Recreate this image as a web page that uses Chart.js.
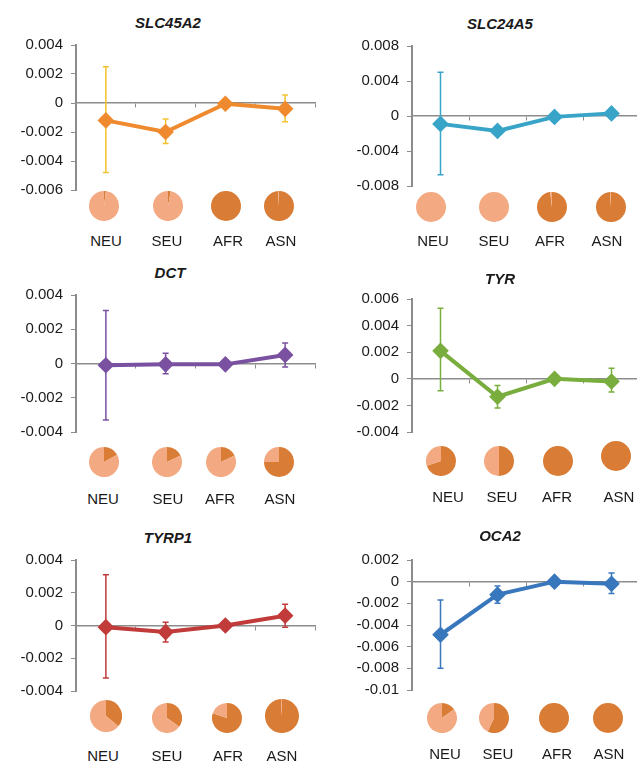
<!DOCTYPE html>
<html>
<head>
<meta charset="utf-8">
<script src="https://cdn.jsdelivr.net/npm/chart.js@4.4.1/dist/chart.umd.min.js"></script>
<style>
  html, body { margin: 0; padding: 0; background: #fff; overflow: hidden; }
  body { position: relative; width: 637px; height: 767px; font-family: "Liberation Sans", Arial, sans-serif; }
  canvas, .txt { position: absolute; }
  .txt { transform: translate(-50%, -50%); white-space: nowrap; color: #1a1a1a; }
  .title { font-weight: bold; font-style: italic; font-size: 15px; }
  .cat { font-size: 15px; }
</style>
</head>
<body>
<script>
const categories = ["NEU", "SEU", "AFR", "ASN"];

// mean, error bar ends, share of dark allele in the pies
const slc45a2Mean = [-0.0012, -0.002, -0.00005, -0.0004];
const slc45a2Low = [-0.0048, -0.0028, -0.0002, -0.0013];
const slc45a2High = [0.0025, -0.0011, 0.0001, 0.00055];
const slc45a2Dark = [0.02, 0.03, 1, 0.99];
const slc45a2Ticks = [-0.006, -0.004, -0.002, 0, 0.002, 0.004];

const slc24a5Mean = [-0.0009, -0.0017, -0.0001, 0.0003];
const slc24a5Low = [-0.0067, -0.0021, -0.0003, 0];
const slc24a5High = [0.005, -0.0012, 0.0001, 0.0006];
const slc24a5Dark = [0, 0, 0.98, 0.99];
const slc24a5Ticks = [-0.008, -0.004, 0, 0.004, 0.008];

const dctMean = [-0.0001, -0.00005, -0.00005, 0.0005];
const dctLow = [-0.0033, -0.0006, -0.0002, -0.0002];
const dctHigh = [0.0031, 0.0006, 0.0002, 0.0012];
const dctDark = [0.17, 0.18, 0.18, 0.75];
const dctTicks = [-0.004, -0.002, 0, 0.002, 0.004];

const tyrMean = [0.0021, -0.00135, 0, -0.0002];
const tyrLow = [-0.0009, -0.0022, -0.0002, -0.001];
const tyrHigh = [0.0053, -0.0005, 0.0002, 0.0008];
const tyrDark = [0.7, 0.5, 1, 1];
const tyrTicks = [-0.004, -0.002, 0, 0.002, 0.004, 0.006];

const tyrp1Mean = [-0.0001, -0.0004, 0, 0.0006];
const tyrp1Low = [-0.0032, -0.001, -0.0002, -0.0001];
const tyrp1High = [0.0031, 0.0002, 0.0002, 0.0013];
const tyrp1Dark = [0.36, 0.35, 0.8, 0.99];
const tyrp1Ticks = [-0.004, -0.002, 0, 0.002, 0.004];

const oca2Mean = [-0.0049, -0.0012, 0, -0.0002];
const oca2Low = [-0.008, -0.002, -0.0002, -0.0011];
const oca2High = [-0.0017, -0.0004, 0.0002, 0.0008];
const oca2Dark = [0.15, 0.57, 1, 1];
const oca2Ticks = [-0.01, -0.008, -0.006, -0.004, -0.002, 0, 0.002];

const axisGray = "#8c8c8c";
const darkSkin = "#d97c35";
const lightSkin = "#f3a981";

const panels = [
  { gene: "SLC45A2", mean: slc45a2Mean, low: slc45a2Low, high: slc45a2High, dark: slc45a2Dark, ticks: slc45a2Ticks,
    color: "#ef8a2f", barColor: "#f3c232", left: 0, width: 318, axisW: 76, top: 45, bottom: 190,
    titleX: 168, titleY: 22, catY: 240, catX: [106, 167, 228, 281],
    pieX: [104, 168, 226, 279], pieY: [206, 206, 206, 206], pieR: [15, 15, 15, 15] },
  { gene: "SLC24A5", mean: slc24a5Mean, low: slc24a5Low, high: slc24a5High, dark: slc24a5Dark, ticks: slc24a5Ticks,
    color: "#38a5c8", barColor: "#38a5c8", left: 320, width: 320, axisW: 92, top: 46, bottom: 186,
    titleX: 500, titleY: 23, catY: 240, catX: [433, 494, 550, 607],
    pieX: [431, 494, 552, 611], pieY: [207, 207, 207, 207], pieR: [15, 15, 15, 15] },
  { gene: "DCT", mean: dctMean, low: dctLow, high: dctHigh, dark: dctDark, ticks: dctTicks,
    color: "#7a51a0", barColor: "#7a51a0", left: 0, width: 318, axisW: 76, top: 295, bottom: 432,
    titleX: 170, titleY: 272, catY: 498, catX: [103, 168, 220, 280],
    pieX: [104, 167, 221, 279], pieY: [462, 462, 462, 462], pieR: [15, 15, 15, 15] },
  { gene: "TYR", mean: tyrMean, low: tyrLow, high: tyrHigh, dark: tyrDark, ticks: tyrTicks,
    color: "#79ae3e", barColor: "#79ae3e", left: 320, width: 320, axisW: 92, top: 299, bottom: 432,
    titleX: 500, titleY: 278, catY: 496, catX: [448, 502, 557, 619],
    pieX: [441, 499, 558, 616], pieY: [461, 461, 461, 456], pieR: [15, 15, 15, 15] },
  { gene: "TYRP1", mean: tyrp1Mean, low: tyrp1Low, high: tyrp1High, dark: tyrp1Dark, ticks: tyrp1Ticks,
    color: "#c23b3b", barColor: "#c23b3b", left: 0, width: 318, axisW: 76, top: 560, bottom: 691,
    titleX: 168, titleY: 537, catY: 755, catX: [103, 167, 228, 282],
    pieX: [106, 167, 227, 282], pieY: [716, 718, 718, 716], pieR: [16, 15, 15, 17] },
  { gene: "OCA2", mean: oca2Mean, low: oca2Low, high: oca2High, dark: oca2Dark, ticks: oca2Ticks,
    color: "#3977bd", barColor: "#3977bd", left: 320, width: 320, axisW: 92, top: 560, bottom: 690,
    titleX: 500, titleY: 535, catY: 753, catX: [445, 498, 557, 609],
    pieX: [442, 494, 554, 608], pieY: [718, 718, 718, 718], pieR: [15, 15, 15, 15] },
];

// error bars are drawn under the line, from the dataset's own low/high arrays
const errorBars = {
  id: "errorBars",
  beforeDatasetsDraw(chart) {
    const { ctx, scales: { x, y } } = chart;
    const ds = chart.data.datasets[0];
    ctx.save();
    ctx.strokeStyle = ds.errColor;
    ctx.lineWidth = 1.5;
    ds.errLow.forEach((lo, i) => {
      const px = x.getPixelForValue(i);
      const y1 = y.getPixelForValue(lo);
      const y2 = y.getPixelForValue(ds.errHigh[i]);
      ctx.beginPath();
      ctx.moveTo(px, y1);
      ctx.lineTo(px, y2);
      ctx.moveTo(px - 3, y1);
      ctx.lineTo(px + 3, y1);
      ctx.moveTo(px - 3, y2);
      ctx.lineTo(px + 3, y2);
      ctx.stroke();
    });
    ctx.restore();
  }
};

function addText(text, x, y, cls) {
  const el = document.createElement("div");
  el.className = "txt " + cls;
  el.textContent = text;
  el.style.left = x + "px";
  el.style.top = y + "px";
  document.body.appendChild(el);
}

// room above/below the plot area; must beat the y labels' own padding (half label + ticks.padding)
const pad = 18;

panels.forEach((p) => {
  addText(p.gene, p.titleX, p.titleY, "title");

  const canvas = document.createElement("canvas");
  canvas.width = p.width;
  canvas.height = p.bottom - p.top + 2 * pad;
  canvas.style.left = p.left + "px";
  canvas.style.top = (p.top - pad) + "px";
  document.body.appendChild(canvas);

  new Chart(canvas, {
    type: "line",
    data: {
      labels: categories,
      datasets: [{
        data: p.mean,
        errLow: p.low,
        errHigh: p.high,
        errColor: p.barColor,
        borderColor: p.color,
        backgroundColor: p.color,
        borderWidth: 4,
        pointStyle: "rectRot",
        pointRadius: 5.5,
        pointBackgroundColor: p.color,
        pointBorderColor: p.color,
        tension: 0,
      }],
    },
    options: {
      responsive: false,
      animation: false,
      events: [],
      layout: { autoPadding: false, padding: { top: pad, bottom: pad, left: 0, right: p.left === 0 ? 3 : 0 } },
      plugins: { legend: { display: false }, tooltip: { enabled: false } },
      scales: {
        x: {
          type: "category",
          offset: true,
          position: { y: 0 },
          ticks: { display: false },
          grid: { drawOnChartArea: false, drawTicks: true, tickLength: 4, color: axisGray, offset: true },
          border: { color: axisGray, width: 1.5 },
          afterFit: (s) => { s.height = 0; },
        },
        y: {
          position: "left",
          min: p.ticks[0],
          max: p.ticks[p.ticks.length - 1],
          afterBuildTicks: (s) => { s.ticks = p.ticks.map((v) => ({ value: v })); },
          afterFit: (s) => { s.width = p.axisW; },
          ticks: {
            color: "#1a1a1a",
            padding: 8,
            font: { size: 15, family: "'Liberation Sans', Arial, sans-serif" },
            callback: (v) => String(+v.toFixed(3)),
          },
          grid: { drawOnChartArea: false, tickLength: 5, color: axisGray },
          border: { color: axisGray, width: 2 },
        },
      },
    },
    plugins: [errorBars],
  });

  // pies with the share of the dark allele, one per population
  categories.forEach((cat, i) => {
    addText(cat, p.catX[i], p.catY, "cat");

    const r = p.pieR[i];
    const pc = document.createElement("canvas");
    pc.width = 2 * r;
    pc.height = 2 * r;
    pc.style.left = (p.pieX[i] - r) + "px";
    pc.style.top = (p.pieY[i] - r) + "px";
    document.body.appendChild(pc);

    new Chart(pc, {
      type: "pie",
      data: {
        labels: ["dark", "light"],
        datasets: [{
          data: [p.dark[i], 1 - p.dark[i]],
          backgroundColor: [darkSkin, lightSkin],
          borderWidth: 0,
        }],
      },
      options: {
        responsive: false,
        animation: false,
        events: [],
        layout: { padding: 0 },
        plugins: { legend: { display: false }, tooltip: { enabled: false } },
      },
    });
  });
});
</script>
</body>
</html>
